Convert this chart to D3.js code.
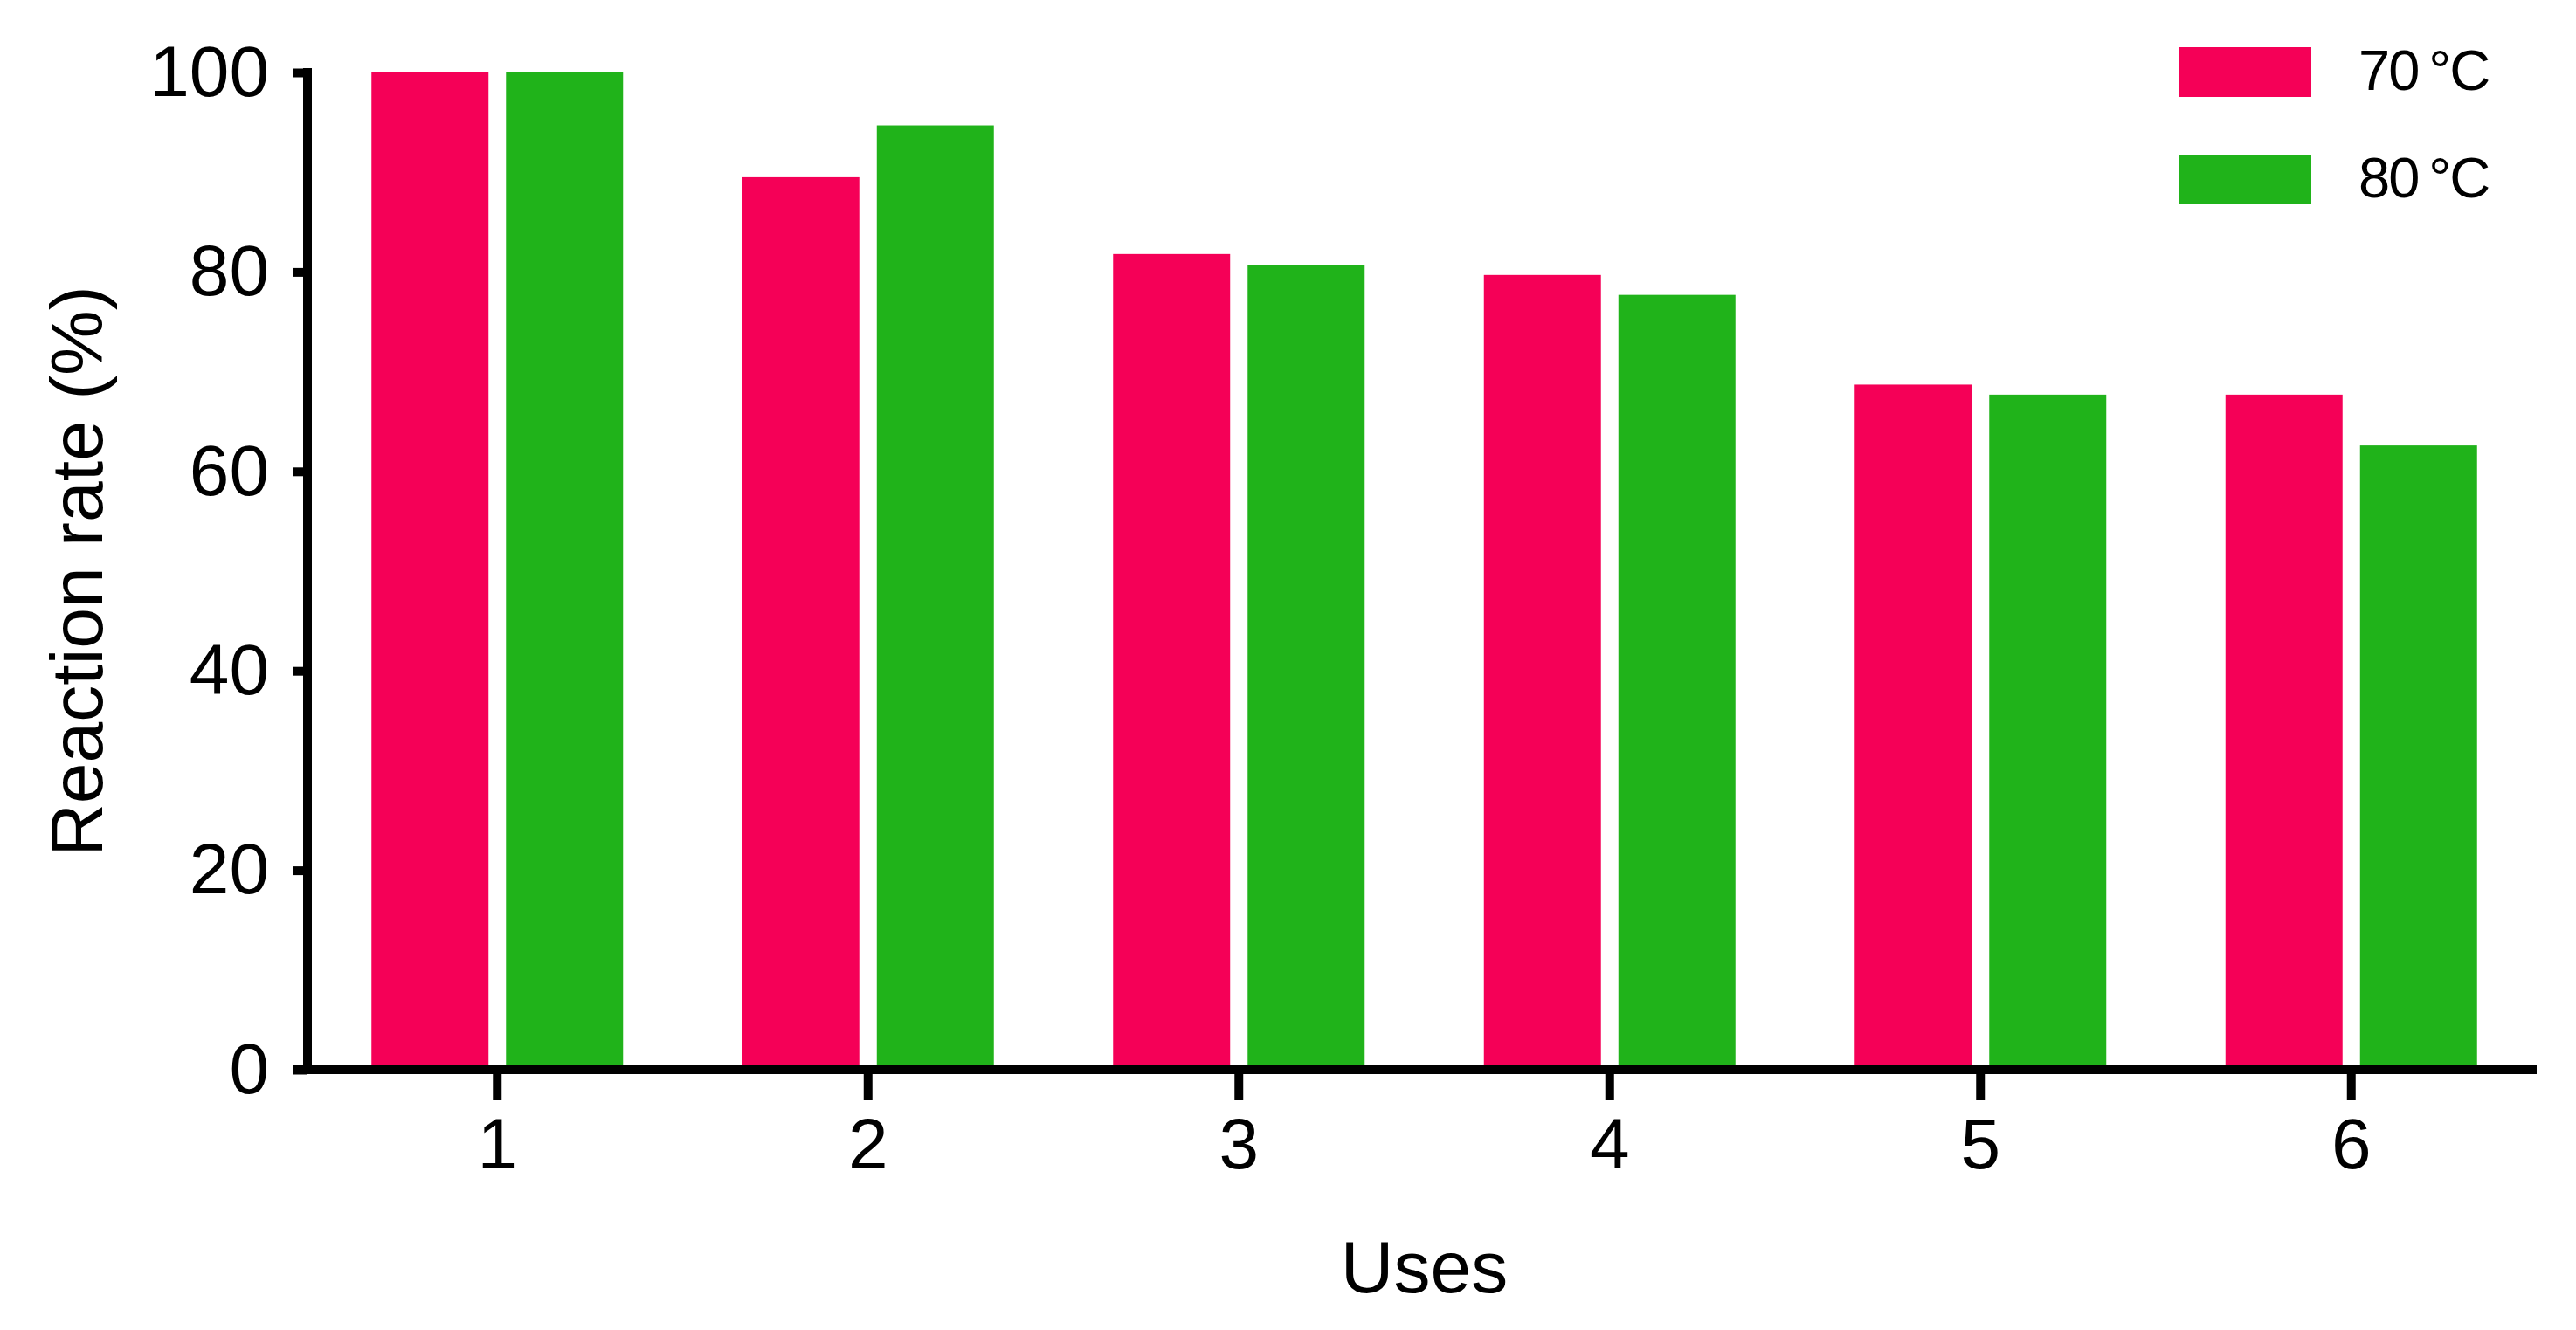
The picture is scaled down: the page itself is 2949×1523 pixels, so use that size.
<!DOCTYPE html>
<html>
<head>
<meta charset="utf-8">
<script src="https://cdn.jsdelivr.net/npm/d3@7"></script>
<style>
  html, body { margin: 0; padding: 0; background: #fff; }
  svg { display: block; }
  text { font-family: "Liberation Sans", Arial, sans-serif; fill: #000; }
</style>
</head>
<body>
<svg id="chart" width="2949" height="1523"></svg>
<script>
const uses = ["1", "2", "3", "4", "5", "6"];
const seriesNames = ["70 °C", "80 °C"];
const values70 = [100, 89.5, 81.8, 79.7, 68.7, 67.7];
const values80 = [100, 94.7, 80.7, 77.7, 67.7, 62.6];
const yTicks = [0, 20, 40, 60, 80, 100];
const colors = ["#f50057", "#20b31a"];

const svg = d3.select("#chart");
const plotLeft = 357, plotRight = 2904, plotTop = 83, plotBottom = 1225;
const axisX = 352;

const x0 = d3.scaleBand().domain(uses).range([plotLeft, plotRight])
  .paddingInner(1 - 288 / 424.5).paddingOuter((1 - 288 / 424.5) / 2);
const x1 = d3.scaleBand().domain(seriesNames).range([0, x0.bandwidth()])
  .paddingInner(0.13).paddingOuter(0);
const y = d3.scaleLinear().domain([0, 100]).range([plotBottom, plotTop]);

const seriesVals = [values70, values80];
const rows = [];
uses.forEach((u, i) => seriesNames.forEach((s, j) => rows.push({u, s, v: seriesVals[j][i], c: colors[j]})));

svg.append("g").selectAll("rect").data(rows).join("rect")
  .attr("x", d => x0(d.u) + x1(d.s))
  .attr("width", x1.bandwidth())
  .attr("y", d => y(d.v))
  .attr("height", d => y(0) - y(d.v))
  .attr("fill", d => d.c);

// Y axis
const gy = svg.append("g").attr("transform", `translate(${axisX},0)`)
  .call(d3.axisLeft(y).tickValues(yTicks).tickSize(17).tickSizeOuter(0).tickPadding(27));
gy.select(".domain").attr("d", `M0,${plotBottom}V${plotTop - 5}`).attr("stroke", "#000").attr("stroke-width", 10);
gy.selectAll(".tick line").attr("stroke", "#000").attr("stroke-width", 10);
gy.selectAll(".tick text").attr("font-size", 82).attr("font-family", "Liberation Sans, Arial, sans-serif");

// X axis
const gx = svg.append("g").attr("transform", `translate(0,${plotBottom})`)
  .call(d3.axisBottom(x0).tickSize(35).tickSizeOuter(0).tickPadding(20));
gx.select(".domain").attr("d", `M${axisX - 17},0H${plotRight}`).attr("stroke", "#000").attr("stroke-width", 10);
gx.selectAll(".tick line").attr("stroke", "#000").attr("stroke-width", 10);
gx.selectAll(".tick text").attr("font-size", 82).attr("font-family", "Liberation Sans, Arial, sans-serif");

// Axis titles
svg.append("text").attr("x", (plotLeft + plotRight) / 2).attr("y", 1480)
  .attr("text-anchor", "middle").attr("font-size", 84).text("Uses");
svg.append("text").attr("transform", `translate(117,${(plotTop + plotBottom) / 2}) rotate(-90)`)
  .attr("text-anchor", "middle").attr("font-size", 84).text("Reaction rate (%)");

// Legend
const legend = svg.append("g");
const legY = [54, 177];
seriesNames.forEach((s, j) => {
  legend.append("rect").attr("x", 2494).attr("y", legY[j]).attr("width", 152).attr("height", 57).attr("fill", colors[j]);
  legend.append("text").attr("x", 2700).attr("y", legY[j] + 49)
    .attr("font-size", 65).attr("letter-spacing", -2).attr("word-spacing", -4).text(s);
});
</script>
</body>
</html>
